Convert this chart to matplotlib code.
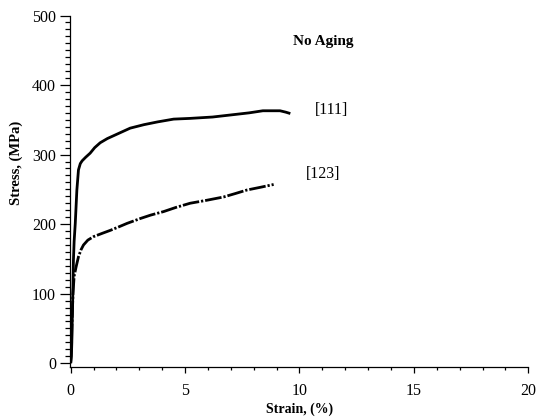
import matplotlib
matplotlib.use("Agg")
import matplotlib.pyplot as plt
from matplotlib.ticker import MultipleLocator

# Data
strain_111 = [0, 0.03, 0.05, 0.06, 0.08, 0.10, 0.12, 0.15, 0.20, 0.27, 0.34, 0.42,
              0.50, 0.65, 0.85, 1.05, 1.29, 1.60, 2.00, 2.60, 3.20, 3.80, 4.50,
              5.20, 6.20, 7.00, 7.80, 8.40, 8.80, 9.15, 9.40, 9.60]
stress_111 = [0, 10, 30, 50, 80, 110, 148, 175, 201, 249, 278, 287,
              291, 296, 302, 310, 317, 323, 329, 338, 343, 347, 351,
              352, 354, 357, 360, 363, 363, 363, 361, 359]

strain_123 = [0, 0.03, 0.06, 0.10, 0.15, 0.24, 0.34, 0.45, 0.56, 0.75, 1.00, 1.40,
              1.73, 2.10, 2.46, 3.04, 3.50, 4.06, 4.60, 5.22, 5.90, 6.68, 7.20,
              7.70, 8.30, 8.87]
stress_123 = [0, 20, 60, 100, 125, 139, 153, 163, 170, 177, 182, 187,
              191, 196, 201, 208, 213, 218, 224, 230, 234, 239, 244,
              249, 253, 257]

x_ticks = [0, 5, 10, 15, 20]
y_ticks = [0, 100, 200, 300, 400, 500]

plt.rcParams['font.family'] = ['Liberation Serif', 'DejaVu Serif']

fig = plt.figure(figsize=(5.36, 4.19), dpi=100)
ax = fig.add_axes([0.1306, 0.1241, 0.9856 - 0.1306, 0.963 - 0.1241])

ax.plot(strain_111, stress_111, color='black', lw=2.0, solid_capstyle='butt')
ax.plot(strain_123, stress_123, color='black', lw=2.0,
        dashes=(6, 0.7, 0.8, 0.7))

ax.set_xlim(-0.03, 20)
ax.set_ylim(-5.5, 500)
ax.set_xticks(x_ticks)
ax.set_yticks(y_ticks)
ax.xaxis.set_minor_locator(MultipleLocator(1))
ax.yaxis.set_minor_locator(MultipleLocator(10))

for s in ['top', 'right']:
    ax.spines[s].set_visible(False)
for s in ['left', 'bottom']:
    ax.spines[s].set_linewidth(0.9)
ax.spines['left'].set_bounds(-5.5, 500)

ax.tick_params(axis='x', which='major', direction='out', length=4.5, width=0.9,
               pad=7, labelsize=11.5)
ax.tick_params(axis='x', which='minor', direction='out', length=2.2, width=0.9)
ax.tick_params(axis='y', which='major', direction='out', length=7, width=0.9,
               pad=3, labelsize=11.5)
ax.tick_params(axis='y', which='minor', direction='out', length=3.6, width=0.9)

ax.set_xlabel('Strain, (%)', fontsize=10, fontweight='bold')
ax.set_ylabel('Stress, (MPa)', fontsize=10.5, fontweight='bold')
ax.xaxis.set_label_coords(0.5, -0.1)
ax.yaxis.set_label_coords(-0.103, 0.58)

ax.text(11.04, 462, 'No Aging', fontsize=11, fontweight='bold',
        ha='center', va='center')
ax.text(11.42, 364, '[111]', fontsize=11.5, ha='center', va='center')
ax.text(11.02, 272, '[123]', fontsize=11.5, ha='center', va='center')

fig.savefig('out.png', dpi=100)
